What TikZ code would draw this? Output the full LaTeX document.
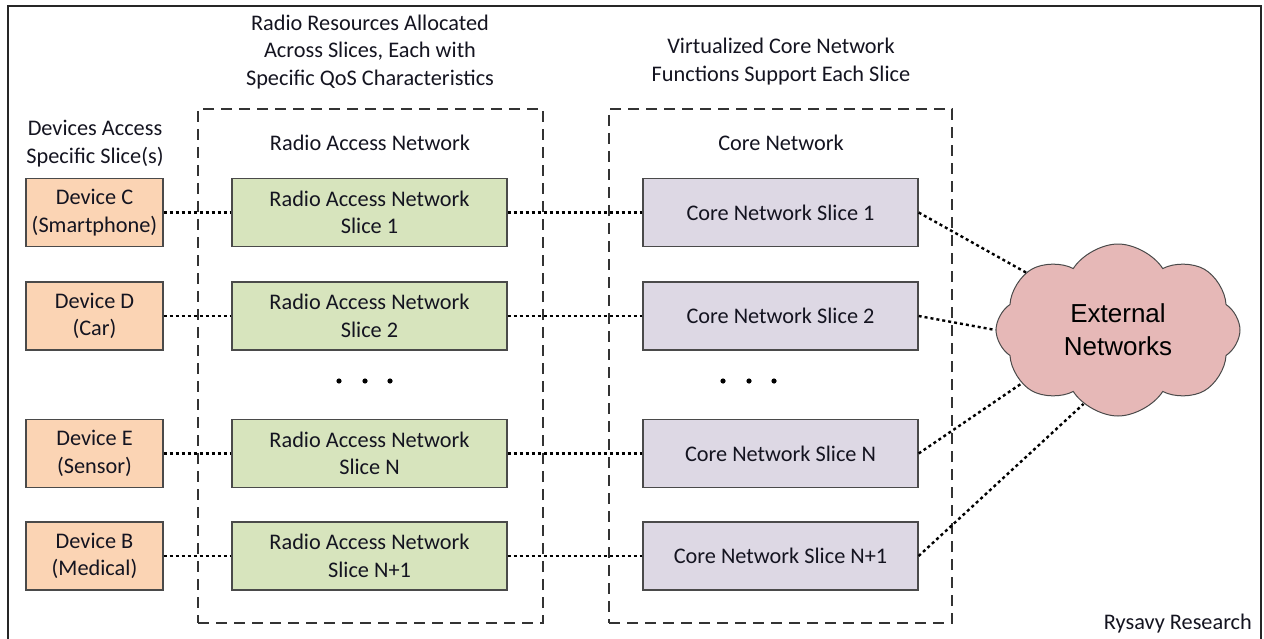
\documentclass[tikz,border=0pt]{standalone}
\usepackage{fontspec}
\setmainfont{Carlito}
\newfontfamily\arialf{Liberation Sans}
\usetikzlibrary{shapes.symbols}
\definecolor{devc}{HTML}{FBD4B4}
\definecolor{ranc}{HTML}{D7E4BD}
\definecolor{corec}{HTML}{DDD8E4}
\definecolor{cloudc}{HTML}{E6B8B7}
\definecolor{edgec}{HTML}{4A4A4A}
\definecolor{txt}{HTML}{141420}
\tikzset{
  lbl/.style={font=\fontsize{22.3}{27.5}\selectfont, text=txt, align=center, inner sep=0},
  slicebox/.style={lbl, draw=edgec, line width=1.3pt, minimum height=68pt},
  devbox/.style={slicebox, fill=devc, minimum width=137pt},
  ranbox/.style={slicebox, fill=ranc, minimum width=275pt},
  corebox/.style={slicebox, fill=corec, minimum width=275pt},
  group/.style={draw=black!80, line width=1.5pt, dash pattern=on 11pt off 7pt, inner sep=0},
  link/.style={draw=black, line width=2.4pt, dash pattern=on 3pt off 3pt},
  dotc/.style={fill=black}
}
\begin{document}
\begin{tikzpicture}[x=1pt,y=-1pt]
\useasboundingbox (0,0) rectangle (1264,639);
% outer frame
\draw[line width=2pt, draw=black!85] (8,639) |- (1261,6) -- (1261,639);

% groups
\node[group, minimum width=345pt, minimum height=514pt] (rangrp) at (370.5,366) {};
\node[group, minimum width=343pt, minimum height=514pt] (coregrp) at (780.5,366) {};

% titles
\node[lbl] (t1) at (370,52) {Radio Resources Allocated\\Across Slices, Each with\\Specific QoS Characteristics};
\node[lbl] (t2) at (781,61.5) {Virtualized Core Network\\Functions Support Each Slice};
\node[lbl] (t3) at (95,143.5) {Devices Access\\Specific Slice(s)};
\node[lbl] (t4) at (370,143) {Radio Access Network};
\node[lbl] (t5) at (781,143) {Core Network};

% devices
\node[devbox] (devC) at (94.5,212.5) {Device C\\(Smartphone)};
\node[devbox] (devD) at (94.5,316) {Device D\\(Car)};
\node[devbox] (devE) at (94.5,453.5) {Device E\\(Sensor)};
\node[devbox] (devB) at (94.5,556) {Device B\\(Medical)};

% RAN slices
\node[ranbox] (ran1) at (369.5,212.5) {Radio Access Network\\Slice 1};
\node[ranbox] (ran2) at (369.5,316) {Radio Access Network\\Slice 2};
\node[ranbox] (ranN) at (369.5,453.5) {Radio Access Network\\Slice N};
\node[ranbox] (ranN1) at (369.5,556) {Radio Access Network\\Slice N+1};

% core slices
\node[corebox] (cn1) at (780.5,212.5) {Core Network Slice 1};
\node[corebox] (cn2) at (780.5,316) {Core Network Slice 2};
\node[corebox] (cnN) at (780.5,453.5) {Core Network Slice N};
\node[corebox] (cnN1) at (780.5,556) {Core Network Slice N+1};

% ellipses
\foreach \x in {339,365,390,723,749,774} \fill[dotc] (\x,381) circle (2.6pt);

% cloud
\node[cloud, cloud puffs=8, cloud puff arc=115, shape border rotate=22.5, aspect=1.43, draw=edgec, line width=1pt, fill=cloudc,
  minimum width=244pt, minimum height=172pt, inner sep=0, align=center,
  font=\arialf\fontsize{26}{33}\selectfont, text=black] (ext) at (1118,330) {External\\Networks};

% links
\draw[link] (devC.east) -- (ran1.west);
\draw[link] (devD.east) -- (ran2.west);
\draw[link] (devE.east) -- (ranN.west);
\draw[link] (devB.east) -- (ranN1.west);
\draw[link] (ran1.east) -- (cn1.west);
\draw[link] (ran2.east) -- (cn2.west);
\draw[link] (ranN.east) -- (cnN.west);
\draw[link] (ranN1.east) -- (cnN1.west);
\draw[link] (cn1.east) -- (ext.148);
\draw[link] (cn2.east) -- (ext.180);
\draw[link] (cnN.east) -- (ext.209);
\draw[link] (cnN1.east) -- (ext.245);

\node[lbl, anchor=east] (credit) at (1252,624) {Rysavy Research};
\end{tikzpicture}
\end{document}
